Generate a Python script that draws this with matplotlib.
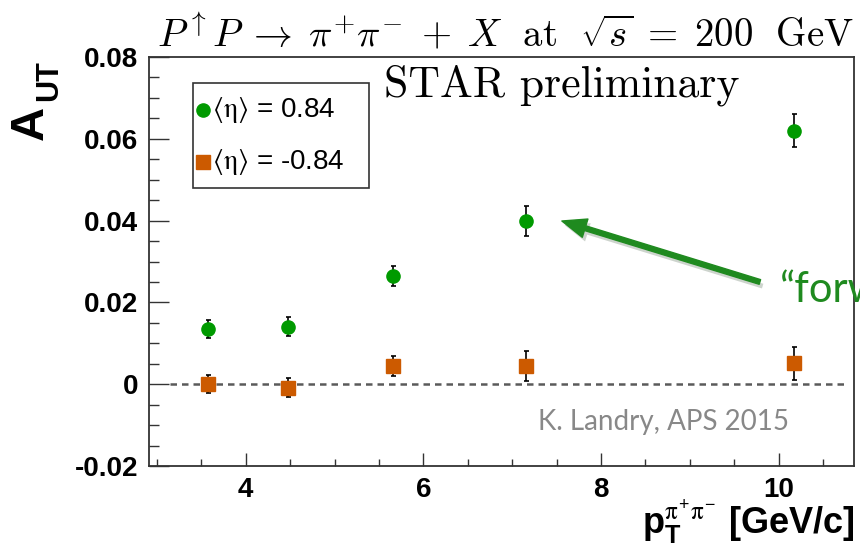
import numpy as np
import matplotlib
matplotlib.use("Agg")
import matplotlib.pyplot as plt
import matplotlib.patheffects as pe
from matplotlib.lines import Line2D
from matplotlib.patches import Rectangle

plt.rcParams['mathtext.fontset'] = 'custom'
plt.rcParams['mathtext.rm'] = 'Liberation Sans'
plt.rcParams['mathtext.bf'] = 'Liberation Sans:bold'
plt.rcParams['mathtext.it'] = 'STIXGeneral'

# data
pt = [3.58, 4.47, 5.66, 7.16, 10.17]
aut_fwd = [0.0135, 0.0141, 0.0265, 0.0399, 0.0620]
err_fwd = [0.0023, 0.0023, 0.0024, 0.0037, 0.0040]
aut_bwd = [0.0000, -0.0009, 0.0045, 0.0044, 0.0051]
err_bwd = [0.0022, 0.0023, 0.0024, 0.0037, 0.0041]
labels = [r'$\langle\mathrm{\eta}\rangle$ = 0.84', r'$\langle\mathrm{\eta}\rangle$ = -0.84']
yticks = [-0.02, 0, 0.02, 0.04, 0.06, 0.08]
yticklabels = ['-0.02', '0', '0.02', '0.04', '0.06', '0.08']
xticks = [4, 6, 8, 10]

green = '#009a00'
orange = '#cc5a00'
frame = '#333333'
W, H = 860, 548

def fx(px):
    return px / W

def fy(py):
    return 1 - py / H

fig = plt.figure(figsize=(8.6, 5.48), dpi=100)
ax = fig.add_axes([fx(149), fy(466), 705/W, 409/H])

ax.hlines(0, 3.15, 10.75, colors='#5a5a5a', linestyles=(0, (2.6, 2.0)), lw=1.8, zorder=1)

ax.errorbar(pt, aut_fwd, yerr=err_fwd, fmt='o', color=green, ms=9.5,
            ecolor='black', elinewidth=1.2, capsize=1.8, capthick=1.2, zorder=3)
ax.errorbar(pt, aut_bwd, yerr=err_bwd, fmt='s', color=orange, ms=9.5,
            ecolor='black', elinewidth=1.2, capsize=1.8, capthick=1.2, zorder=3)

ax.set_xlim(2.91, 10.85)
ax.set_ylim(-0.02, 0.08)
ax.set_xticks(xticks)
ax.set_xticks(np.arange(3, 11, 0.5), minor=True)
ax.set_yticks(yticks, yticklabels)
ax.set_yticks(np.arange(-0.02, 0.0801, 0.005), minor=True)

for s in ax.spines.values():
    s.set_color(frame)
    s.set_linewidth(1.3)
ax.tick_params(axis='both', which='both', direction='in', color=frame, width=1.0,
               labelsize=20, top=False, right=False)
ax.tick_params(axis='y', which='major', length=14.5, pad=8)
ax.tick_params(axis='y', which='minor', length=7)
ax.tick_params(axis='x', which='major', length=9.5, pad=8)
ax.tick_params(axis='x', which='minor', length=5)
for lab in ax.get_xticklabels() + ax.get_yticklabels():
    lab.set_fontfamily('Liberation Sans')
    lab.set_fontweight('bold')

# legend box, drawn by hand ROOT style
fig.patches.append(Rectangle((fx(193), fy(188)), 176/W, 105/H, transform=fig.transFigure,
                             facecolor='white', edgecolor=frame, lw=1.2, zorder=5))
for row, (mk, col, lab) in enumerate(zip(['o', 's'], [green, orange], labels)):
    yy = fy(110 + 52 * row)
    fig.lines.append(Line2D([fx(203)], [yy], marker=mk, color=col, ms=9.5, ls='none',
                            transform=fig.transFigure, zorder=6))
    fig.text(fx(212), yy, lab, family='Liberation Sans', fontsize=20, ha='left',
             va='center', math_fontfamily='stix', zorder=6)

fig.text(fx(157), fy(46),
         r'$P^{\uparrow}P\;\rightarrow\;\pi^{+}\pi^{-}\;+\;X\ \ \mathrm{at}\ \ \sqrt{s}\;=\;200\ \ \mathrm{GeV}$',
         fontsize=28, ha='left', va='baseline', math_fontfamily='cm')
fig.text(fx(384), fy(97), 'STAR preliminary', family='cmr10', fontsize=31.5,
         ha='left', va='baseline')

fig.text(fx(31), fy(125), r'$\mathbf{A}$', fontsize=34, rotation=90, ha='center', va='center')
fig.text(fx(49), fy(81), 'UT', family='Liberation Sans', fontweight='bold', fontsize=22,
         rotation=90, ha='center', va='center')
fig.text(fx(855), fy(534), r'$\mathbf{p}_{\mathbf{T}}^{\pi^{+}\pi^{-}}$ [GeV/c]',
         family='Liberation Sans', fontweight='bold', fontsize=26,
         ha='right', va='baseline')

fig.text(fx(663), fy(430), 'K. Landry, APS 2015', family='Lato', fontsize=20,
         color='#888888', ha='center', va='baseline')

arrow_green = '#1f8a1f'
ax.annotate('', xy=(7.56, 0.0399), xytext=(9.79, 0.025),
            arrowprops=dict(arrowstyle='simple,head_length=0.7,head_width=0.55,tail_width=0.14',
                            mutation_scale=25, color=arrow_green, shrinkA=0, shrinkB=0,
                            path_effects=[pe.SimplePatchShadow(offset=(2, -3), alpha=0.2),
                                          pe.Normal()]))
fig.text(fx(780), fy(302), '\u201cforward\u201d', family='Lato', fontsize=30,
         color=arrow_green, ha='left', va='baseline')

fig.savefig('out.png', dpi=100)
